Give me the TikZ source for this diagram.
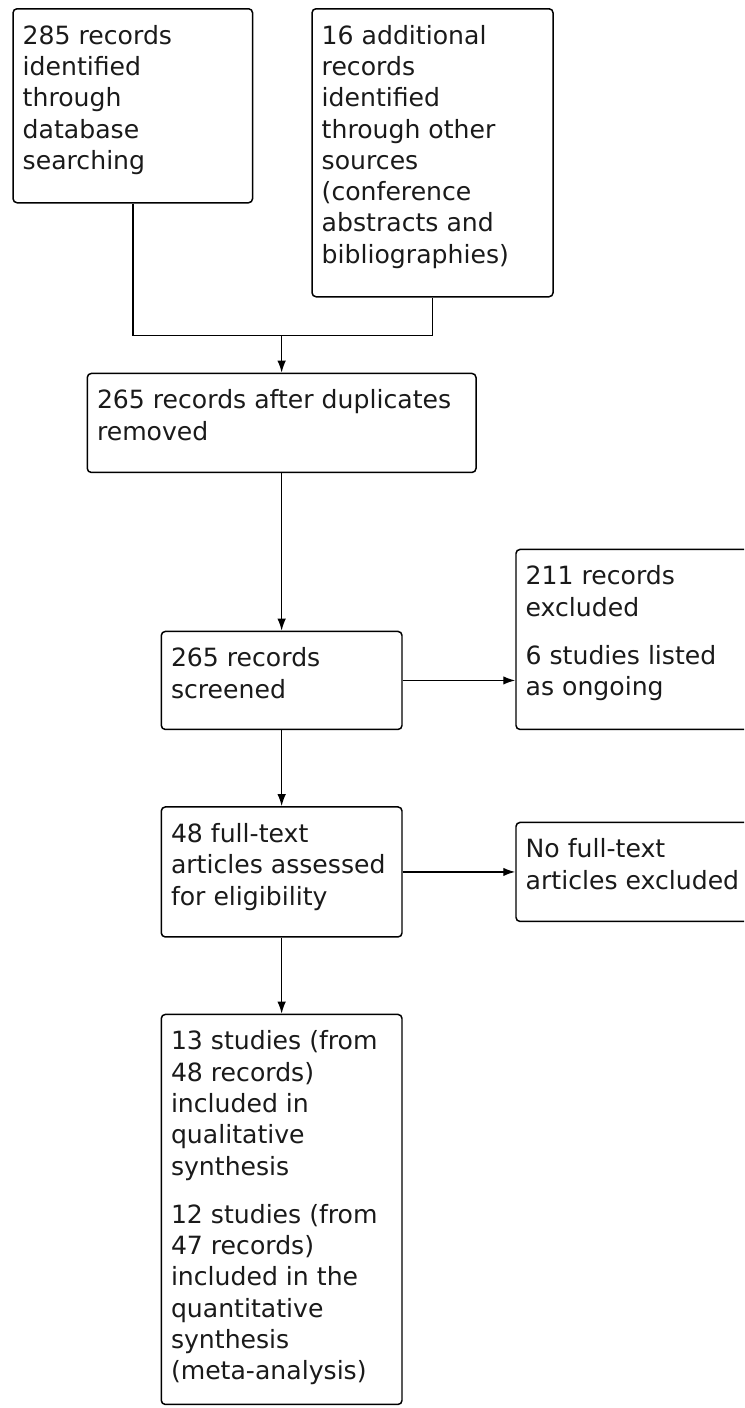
\documentclass[tikz,border=0pt]{standalone}
\usepackage{fontspec}
\setmainfont{DejaVu Sans}
\usetikzlibrary{arrows.meta, positioning, calc}

\definecolor{ink}{HTML}{1A1A1A}

% fixed-size box text, first baseline 0.71cm below the top
\newcommand{\boxtext}[3]{\begin{minipage}[c][#2][t]{#1}\raggedright\rule{0pt}{0.71cm}#3\end{minipage}}

\begin{document}
\begin{tikzpicture}[
        box/.style={draw, rounded corners=0.08cm, line width=0.85pt, inner xsep=0.194cm, inner ysep=0pt,
            text=ink, font=\fontsize{14.3pt}{17.8pt}\selectfont},
        line/.style={line width=0.85pt},
        arrow/.style={line width=0.85pt, -{Latex[length=0.24cm, width=0.17cm]}}
    ]
        \useasboundingbox (0,0) rectangle (14.88,-28.16);
        \clip (0,0) rectangle (14.88,-28.16);

        % Identification
        \node[box, anchor=north west] (ident) at (0.246,-0.16)
            {\boxtext{4.402cm}{3.88cm}{285 records\\identified\\through\\database\\searching}};
        \node[box, right=1.16cm of ident.north east, anchor=north west] (other)
            {\boxtext{4.432cm}{5.76cm}{16 additional\\records\\identified\\through other\\sources\\(conference\\abstracts and\\bibliographies)}};

        % Screening
        \node[box, anchor=north] (dups) at (5.633,-7.454)
            {\boxtext{7.386cm}{1.98cm}{265 records after duplicates\\removed}};
        \coordinate[above=0.74cm of dups.north] (join);
        \node[box, below=3.15cm of dups] (screen)
            {\boxtext{4.426cm}{1.96cm}{265 records\\screened}};
        \node[box, anchor=north west] (excl) at ([xshift=2.25cm, yshift=1.64cm]screen.north east)
            {\boxtext{4.812cm}{3.6cm}{211 records\\excluded\par\vspace{0.34cm}6 studies listed\\as ongoing}};

        % Eligibility
        \node[box, below=1.52cm of screen] (full)
            {\boxtext{4.426cm}{2.6cm}{48 full-text\\articles assessed\\for eligibility}};
        \node[box, right=2.25cm of full] (noft)
            {\boxtext{4.812cm}{1.98cm}{No full-text\\articles excluded}};

        % Included
        \node[box, below=1.52cm of full] (incl)
            {\boxtext{4.426cm}{7.8cm}{13 studies (from\\48 records)\\included in\\qualitative\\synthesis\par\vspace{0.34cm}12 studies (from\\47 records)\\included in the\\quantitative\\synthesis\\(meta-analysis)}};

        \draw[line] (ident.south) |- (join) -| (other.south);
        \draw[arrow] (join) -- (dups);
        \draw[arrow] (dups) -- (screen);
        \draw[arrow] (screen.east) -- (screen.east -| excl.west);
        \draw[arrow] (screen) -- (full);
        \draw[arrow] (full) -- (noft);
        \draw[arrow] (full) -- (incl);
\end{tikzpicture}
\end{document}
